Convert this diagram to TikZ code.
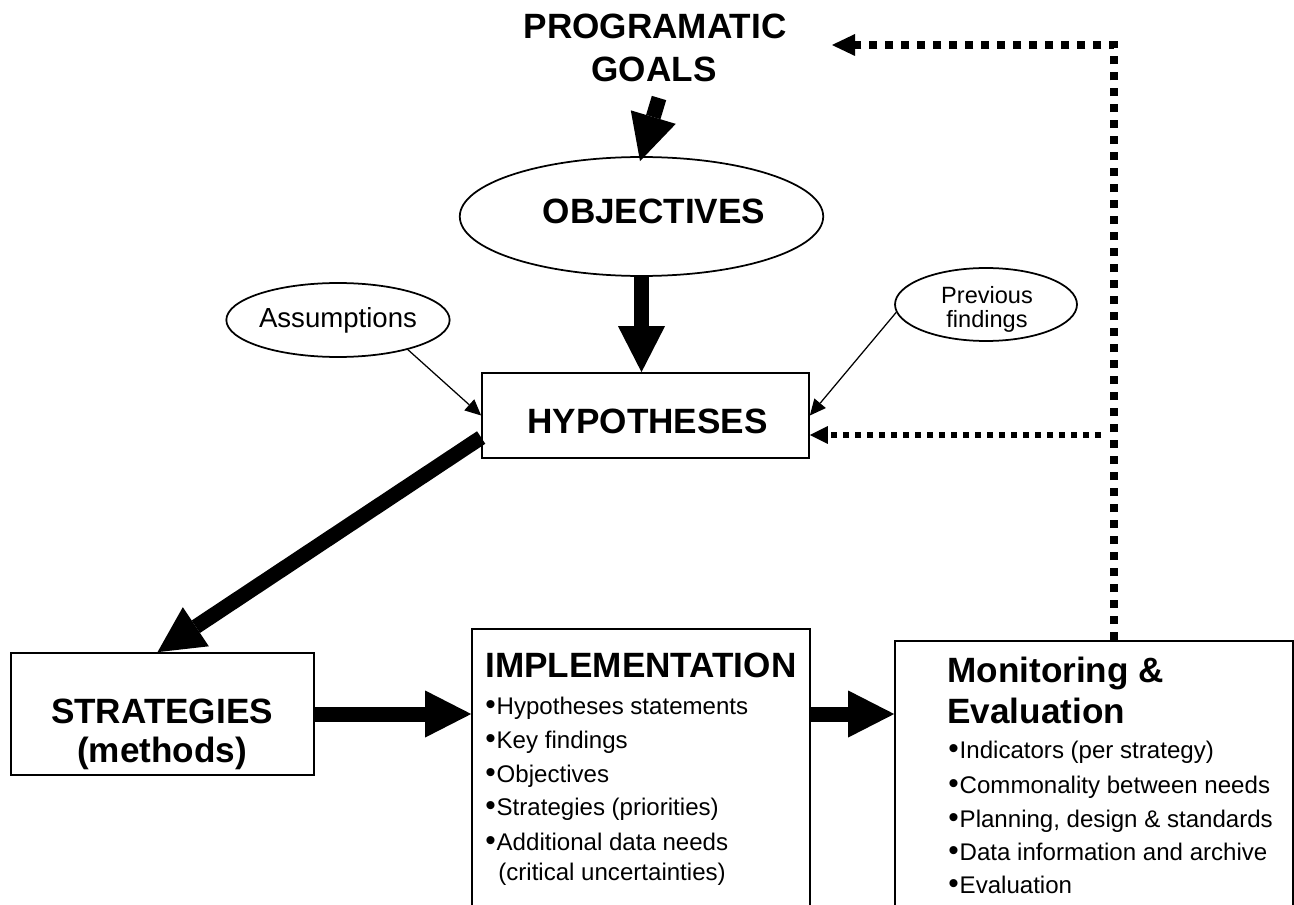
\documentclass[tikz,border=0pt]{standalone}
\usepackage{fontspec}
\setmainfont{Liberation Sans}
\usetikzlibrary{shapes.geometric,arrows.meta,calc}
% raised bullet used in the item lists
\newcommand\bul{{\fontsize{17}{17}\selectfont\raisebox{-0.3pt}{•}}\hspace{0.5pt}}

\begin{document}
\begin{tikzpicture}[x=0.02cm,y=-0.02cm,
  ttl/.style={font=\fontsize{20}{24}\selectfont\bfseries, inner sep=0pt},
  itemtxt/.style={font=\fontsize{13.7}{16}\selectfont, inner sep=0pt, anchor=base west},
  boxframe/.style={draw, line width=0.035cm, inner sep=0pt},
  oval/.style={ellipse, draw, line width=0.035cm, inner sep=0pt},
  bigarrow/.style={line width=0.3cm, -{Triangle[width=0.94cm,length=0.92cm,line width=0pt]}},
  thinarrow/.style={line width=0.025cm, -{Triangle[width=0.3cm,length=0.32cm,line width=0pt]}},
  loopline/.style={line width=0.16cm, dash pattern=on 0.16cm off 0.16cm,
    -{Triangle[width=0.44cm,length=0.46cm,line width=0pt]}},
  loopthin/.style={line width=0.12cm, dash pattern=on 0.12cm off 0.12cm,
    -{Triangle[width=0.36cm,length=0.36cm,line width=0pt]}},
]
\clip (0,0) rectangle (1294,905);
\fill[white] (0,0) rectangle (1294,905);

% --- goals and objectives ---
\node[ttl, anchor=base] (goals1) at (655,39) {PROGRAMATIC};
\node[ttl, anchor=base] (goals2) at (654,82) {GOALS};
\node[oval, minimum width=7.27cm, minimum height=2.38cm] (obj) at (641.5,216.5) {};
\node[ttl, anchor=base] (objtxt) at (654,224) {OBJECTIVES};

% --- hypotheses and its inputs ---
\node[boxframe, minimum width=6.54cm, minimum height=1.7cm] (hyp) at (645.5,415.5) {};
\node[ttl, anchor=base] (hyptxt) at (647.5,433) {HYPOTHESES};
\node[oval, minimum width=3.64cm, minimum height=1.48cm,
      font=\fontsize{15.7}{18}\selectfont] (ass) at (338,320) {Assumptions};
\node[oval, minimum width=3.64cm, minimum height=1.46cm] (prev) at (986,304.5) {};
\node[align=center, inner sep=0pt, font=\fontsize{13.4}{13.7}\selectfont]
      (prevtxt) at (987,309) {Previous\\findings};

% --- strategies ---
\node[boxframe, minimum width=6.06cm, minimum height=2.44cm] (strat) at (162.5,714) {};
\node[ttl, anchor=base] (strat1) at (162,723) {STRATEGIES};
\node[ttl, anchor=base] (strat2) at (162,762) {(methods)};

% --- implementation ---
\node[boxframe, minimum width=6.76cm, minimum height=6.12cm] (impl) at (641,782) {};
\node[ttl, anchor=base west] (impl0) at (485,677) {IMPLEMENTATION};
\node[itemtxt] (impl1) at (485,714) {\bul Hypotheses statements};
\node[itemtxt] (impl2) at (485,748) {\bul Key findings};
\node[itemtxt] (impl3) at (485,782) {\bul Objectives};
\node[itemtxt] (impl4) at (485,815) {\bul Strategies (priorities)};
\node[itemtxt] (impl5) at (485,850) {\bul Additional data needs};
\node[itemtxt] (impl6) at (498,880) {(critical uncertainties)};

% --- monitoring & evaluation ---
\node[boxframe, minimum width=7.96cm, minimum height=5.88cm] (mon) at (1094,788) {};
\node[ttl, anchor=base west] (mon0a) at (947,682) {Monitoring \&};
\node[ttl, anchor=base west] (mon0b) at (947,723) {Evaluation};
\node[itemtxt] (mon1) at (948,758) {\bul Indicators (per strategy)};
\node[itemtxt] (mon2) at (948,793) {\bul Commonality between needs};
\node[itemtxt] (mon3) at (948,827) {\bul Planning, design \& standards};
\node[itemtxt] (mon4) at (948,860) {\bul Data information and archive};
\node[itemtxt] (mon5) at (948,893) {\bul Evaluation};

% --- main flow ---
\coordinate (gtail) at (659,98);
\draw[bigarrow] (gtail) -- ($(obj.north)+(-1.5,5)$);
\draw[bigarrow] (obj.south) -- (obj.south |- hyp.north);
\draw[thinarrow] (ass.-23) -- (hyp.west);
\draw[thinarrow] (prev.185) -- (hyp.east);
\draw[bigarrow] ($(hyp.west)+(0,22)$) -- ($(strat.north)+(-5,0)$);
\draw[bigarrow] (strat.east) -- (strat.east -| impl.west);
\draw[bigarrow] (strat.east -| impl.east) -- (strat.east -| mon.west);

% --- feedback loops ---
\coordinate (fbcorner) at (1114,45);
\coordinate (goaltip) at (832,45);
\coordinate (fbjoin) at (1101,435);
\draw[loopline] (fbcorner |- mon.north) -- (fbcorner) -- (goaltip);
\draw[loopthin] (fbjoin) -- (fbjoin -| hyp.east);
\end{tikzpicture}
\end{document}
